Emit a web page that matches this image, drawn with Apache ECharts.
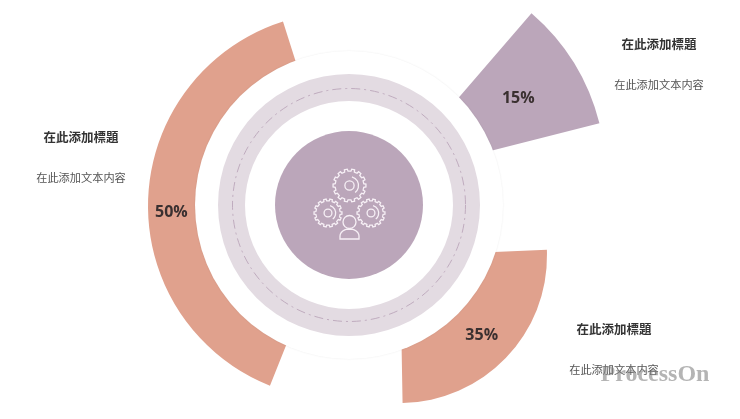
<!DOCTYPE html>
<html>
<head>
<meta charset="utf-8">
<style>html,body{margin:0;padding:0;background:#fff}#main{width:740px;height:419px}</style>
<script src="https://cdn.jsdelivr.net/npm/echarts@6/dist/echarts.min.js"></script>
</head>
<body>
<div id="main"></div>
<script>
// 数据
var percents = [50, 35, 15];
var titles = ['在此添加標題', '在此添加標題', '在此添加標題'];
var bodies = ['在此添加文本内容', '在此添加文本内容', '在此添加文本内容'];

var CX = 349, CY = 205;
var salmon = '#E0A18D', purple = '#BBA6BA', ringColor = '#E3DBE2';

// 一段扇形一个 pie，圆心各不相同，内侧被白色圆盖住
function slice(value, color, center, radius, start, end, offset) {
    return {
        type: 'pie', silent: true, animation: false, clockwise: false, z: 3,
        center: center, radius: radius,
        startAngle: start, endAngle: end,
        itemStyle: { color: color },
        label: {
            show: true, position: 'inside', formatter: '{c}%', offset: offset,
            fontFamily: 'Open Sans', fontSize: 16, fontWeight: 'bold', color: '#3a3030'
        },
        labelLine: { show: false },
        data: [{ value: value }]
    };
}

// 实心圆/圆环
function disc(inner, outer, color, z, shadow) {
    return {
        type: 'pie', silent: true, animation: false, z: z,
        center: [CX, CY], radius: [inner, outer],
        label: { show: false }, labelLine: { show: false },
        itemStyle: { color: color, shadowBlur: shadow ? 2 : 0, shadowColor: 'rgba(0,0,0,0.08)' },
        data: [{ value: 1 }]
    };
}

// 齿轮轮廓
function gearPoints(cx, cy, r) {
    var teeth = 14, pts = [], step = Math.PI * 2 / teeth;
    for (var i = 0; i < teeth; i++) {
        var a = i * step;
        [[r * 0.87, a - step * 0.27], [r, a - step * 0.2], [r, a + step * 0.2], [r * 0.87, a + step * 0.27]].forEach(function (p) {
            pts.push([cx + p[0] * Math.cos(p[1]), cy + p[0] * Math.sin(p[1])]);
        });
    }
    return pts;
}

var iconLine = { stroke: '#F7F0F6', lineWidth: 1.3, fill: 'none' };

function gear(cx, cy, r) {
    return [
        { type: 'polygon', z: 10, silent: true, shape: { points: gearPoints(cx, cy, r) }, style: iconLine },
        { type: 'circle', z: 10, silent: true, shape: { cx: cx, cy: cy, r: r * 0.28 }, style: iconLine },
        { type: 'arc', z: 10, silent: true, shape: { cx: cx, cy: cy, r: r * 0.55, startAngle: -1.3, endAngle: 0.9 }, style: iconLine }
    ];
}

// 人物身体
function bodyPoints(cx, bottom, w, h) {
    var pts = [[cx - w, bottom]];
    for (var i = 0; i <= 12; i++) {
        var a = Math.PI - i * Math.PI / 12;
        pts.push([cx + w * Math.cos(a), bottom - 3 - (h - 3) * Math.sin(a)]);
    }
    pts.push([cx + w, bottom]);
    return pts;
}

function text(x, y, str, size, weight, color, family) {
    return {
        type: 'text', z: 20, silent: true, x: x, y: y,
        style: { text: str, fontSize: size, fontWeight: weight, fill: color, fontFamily: family || 'Noto Sans CJK TC', textAlign: 'center', textVerticalAlign: 'middle' }
    };
}

var graphics = [
    // 虚线环
    { type: 'circle', z: 8, silent: true, shape: { cx: CX, cy: CY, r: 116.5 }, style: { stroke: '#BBA6BA', lineWidth: 0.9, fill: 'none', lineDash: [9, 4, 2, 4] } },
    // 人物
    { type: 'circle', z: 10, silent: true, shape: { cx: 349.5, cy: 222, r: 6.5 }, style: iconLine },
    { type: 'polygon', z: 10, silent: true, shape: { points: bodyPoints(349.5, 239, 9.5, 10) }, style: iconLine },
    text(81, 137, titles[0], 12.5, 'bold', '#333'),
    text(81, 178, bodies[0], 11.2, 'normal', '#555'),
    text(659, 44, titles[2], 12.5, 'bold', '#333'),
    text(659, 85, bodies[2], 11.2, 'normal', '#555'),
    text(614, 329, titles[1], 12.5, 'bold', '#333'),
    text(614, 370, bodies[1], 11.2, 'normal', '#555'),
    text(655, 375, 'ProcessOn', 24, 'bold', 'rgba(130,130,130,0.6)', 'Liberation Serif')
].concat(gear(349.5, 185.5, 16.5), gear(328, 213, 14), gear(371, 213, 14));

var chart = echarts.init(document.getElementById('main'));
chart.setOption({
    backgroundColor: '#fff',
    animation: false,
    series: [
        slice(percents[0], salmon, [341.5, 206], [135, 193.5], 107.6, 248.3, [-3, 12]),
        slice(percents[1], salmon, [400, 256], [77, 147], -89, 2.4, [-2, 1]),
        slice(percents[2], purple, [391, 176], [83, 215], 14.2, 49.2, [-2, 2]),
        disc(0, 154, '#fff', 4, true),
        disc(104, 131, ringColor, 5),
        disc(0, 74, purple, 6)
    ],
    graphic: graphics
});
</script>
</body>
</html>
